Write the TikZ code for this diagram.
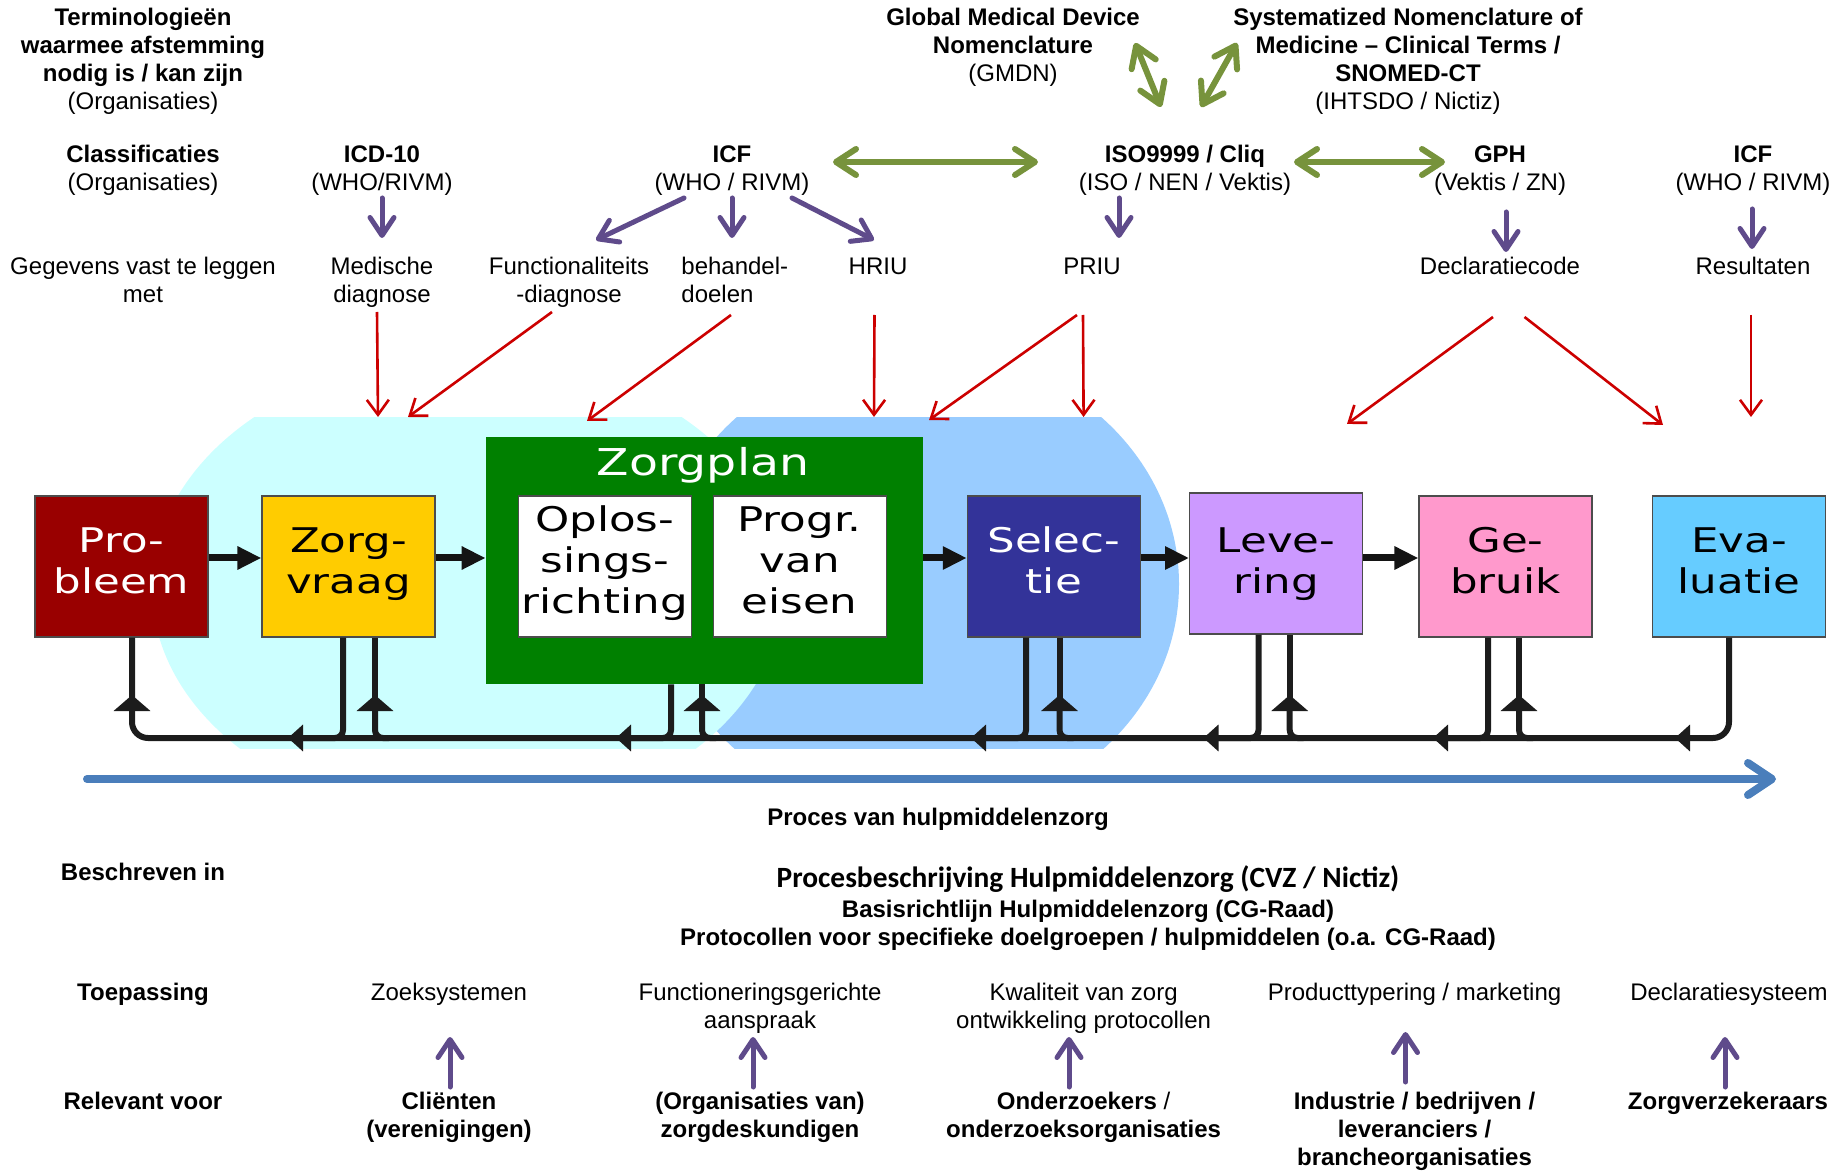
\documentclass[tikz,border=0pt]{standalone}
\usepackage{fontspec}
\setmainfont{Liberation Sans}
\newfontfamily\boxfont[FakeStretch=1.28]{DejaVu Sans}
\newfontfamily\calfont{Carlito}
\usetikzlibrary{arrows.meta,calc}
\definecolor{cpb}{HTML}{990000}
\definecolor{czv}{HTML}{FFCC00}
\definecolor{cgreen}{HTML}{008000}
\definecolor{csel}{HTML}{333399}
\definecolor{clev}{HTML}{CC99FF}
\definecolor{cgeb}{HTML}{FF99CC}
\definecolor{ceva}{HTML}{66CCFF}
\definecolor{bgcyan}{HTML}{CCFFFF}
\definecolor{bgblue}{HTML}{99CCFF}
\definecolor{cpurp}{HTML}{5F4B8B}
\definecolor{cgrn}{HTML}{77933C}
\definecolor{cred}{HTML}{CC0000}
\definecolor{cproc}{HTML}{4A7EBB}
\definecolor{cloop}{HTML}{1C1C1C}
\tikzset{
  txt/.style={font=\fontsize{12}{14}\selectfont, align=center, anchor=base, inner sep=0pt},
  pbox/.style={draw=black!70, line width=0.6pt, minimum width=86.5pt, minimum height=70.5pt, inner sep=0pt},
  boxtxt/.style={align=center, anchor=base, inner sep=0pt, font=\boxfont\fontsize{17}{20.5}\selectfont},
  zpbox/.style={fill=cgreen, minimum width=218.25pt, minimum height=123.5pt, inner sep=0pt},
  purp/.style={draw=cpurp, line width=2.5pt, line cap=round, -{Straight Barb[length=9pt,width=12pt,round]}},
  grn/.style={draw=cgrn, line width=3pt, {Straight Barb[length=10pt,width=13pt,round]}-{Straight Barb[length=10pt,width=13pt,round]}},
  redar/.style={draw=cred, line width=1.3pt, -{Straight Barb[length=7.5pt,width=11pt]}},
  loopl/.style={draw=cloop, line width=3pt},
  uptip/.style={loopl, -{Triangle[length=8pt,width=18pt]}},
  lefttip/.style={loopl, -{Triangle[length=7.5pt,width=13pt]}},
  barrow/.style={draw=black!92, line width=3.5pt, -{Triangle[length=12pt,width=11pt]}},
  proc/.style={draw=cproc, line width=4pt, line cap=round, -{Straight Barb[length=12pt,width=16pt,round]}}
}
\begin{document}
\begin{tikzpicture}[x=0.5pt,y=-0.5pt]
\useasboundingbox (0,0) rectangle (1843,1171);

% background shapes
\begin{scope}
\clip (0,418) rectangle (1843,748);
\fill[bgblue] (919,584) ellipse [x radius=260, y radius=234];
\fill[bgcyan] (468,588) ellipse [x radius=316, y radius=232];
\end{scope}

% process boxes
\node[pbox, fill=cpb] (pb) at (121.5,566.5) {};
\node[boxtxt, text=white] (pbt) at ($(pb)+(0,27)$) {Pro-\\bleem};
\node[pbox, fill=czv] (zv) at (348.5,566.5) {};
\node[boxtxt] (zvt) at ($(zv)+(0,27)$) {Zorg-\\vraag};
\node[zpbox] (zp) at (704.25,560.5) {};
\node[anchor=base, inner sep=0pt, text=white, font=\boxfont\fontsize{18.5}{20}\selectfont] (zpt) at (703,476) {Zorgplan};
\node[pbox, fill=white] (op) at (604.85,566.5) {};
\node[boxtxt] (opt) at ($(op)+(0,47)$) {Oplos-\\sings-\\richting};
\node[pbox, fill=white] (pv) at (799.6,566.5) {};
\node[boxtxt] (pvt) at ($(pv)+(0,47)$) {Progr.\\van\\eisen};
\node[pbox, fill=csel] (sel) at (1053.85,566.5) {};
\node[boxtxt, text=white] (selt) at ($(sel)+(0,27)$) {Selec-\\tie};
\node[pbox, fill=clev] (lev) at (1276.15,563.5) {};
\node[boxtxt] (levt) at ($(lev)+(0,30)$) {Leve-\\ring};
\node[pbox, fill=cgeb] (geb) at (1505.5,566.5) {};
\node[boxtxt] (gebt) at ($(geb)+(0,27)$) {Ge-\\bruik};
\node[pbox, fill=ceva] (eva) at (1739,566.5) {};
\node[boxtxt] (evat) at ($(eva)+(0,27)$) {Eva-\\luatie};

% forward arrows
\draw[barrow] ($(pb.east)+(0,-8.5)$) -- ($(zv.west)+(0,-8.5)$);
\draw[barrow] ($(zv.east)+(0,-8.5)$) -- ($(zp.west)+(0,-2.5)$);
\draw[barrow] ($(zp.east)+(0,-2.5)$) -- ($(sel.west)+(0,-8.5)$);
\draw[barrow] ($(sel.east)+(0,-8.5)$) -- ($(lev.west)+(0,-5.5)$);
\draw[barrow] ($(lev.east)+(0,-5.5)$) -- ($(geb.west)+(0,-8.5)$);

% feedback loop
\coordinate (bus) at (0,738);
\coordinate (pbL) at ($(pb.south)+(10.5,0)$);
\coordinate (zvL) at ($(zv.south)+(-5.5,0)$);
\coordinate (zvR) at ($(zv.south)+(26.5,0)$);
\coordinate (zpL) at ($(zp.south)+(-33.25,0)$);
\coordinate (zpR) at ($(zp.south)+(-2.25,0)$);
\coordinate (selL) at ($(sel.south)+(-27.85,0)$);
\coordinate (selR) at ($(sel.south)+(5.65,0)$);
\coordinate (levL) at ($(lev.south)+(-17.65,0)$);
\coordinate (levR) at ($(lev.south)+(13.55,0)$);
\coordinate (gebL) at ($(geb.south)+(-17.5,0)$);
\coordinate (gebR) at ($(geb.south)+(13.5,0)$);
\coordinate (evaL) at ($(eva.south)+(-10,0)$);

\draw[loopl, rounded corners=8pt] (evaL) |- (pbL |- bus) -- (pbL);
\draw[lefttip] ($(evaL |- bus)+(-30,0)$) -- ($(evaL |- bus)+(-54,0)$);
\draw[uptip] ($(pbL |- bus)+(0,-25)$) -- ($(pbL |- bus)+(0,-43)$);
\foreach \b in {zv,zp,sel,lev,geb}{
  \draw[lefttip, rounded corners=4pt] (\b L) |- ($(\b L |- bus)+(-55,0)$);
  \draw[uptip, rounded corners=4pt] ($(\b R |- bus)+(14,0)$) -| ($(\b R |- bus)+(0,-43)$);
  \draw[loopl] ($(\b R |- bus)+(0,-40)$) -- (\b R);
}

% process arrow
\coordinate (pstart) at (87,779);
\coordinate (pend) at (1776,779);
\draw[proc] (pstart) -- (pend);

% top text (anchor base = baseline of the last line)
\node[txt] (term) at (143,110) {\textbf{Terminologieën}\\\textbf{waarmee afstemming}\\\textbf{nodig is / kan zijn}\\(Organisaties)};
\node[txt] (klas) at (143,191) {\textbf{Classificaties}\\(Organisaties)};
\node[txt] (geg) at (143,303) {Gegevens vast te leggen\\met};
\node[txt] (icd) at (382,191) {\textbf{ICD-10}\\(WHO/RIVM)};
\node[txt] (icf) at (732,191) {\textbf{ICF}\\(WHO / RIVM)};
\node[txt] (med) at (382,303) {Medische\\diagnose};
\node[txt] (fun) at (569,303) {Functionaliteits\\-diagnose};
\node[txt, align=left, anchor=base west] (beh) at (681,303) {behandel-\\doelen};
\node[txt] (hriu) at (878,275) {HRIU};
\node[txt] (gmdn) at (1013,82) {\textbf{Global Medical Device}\\\textbf{Nomenclature}\\(GMDN)};
\node[txt] (snomed) at (1408,110) {\textbf{Systematized Nomenclature of}\\\textbf{Medicine – Clinical Terms /}\\\textbf{SNOMED-CT}\\(IHTSDO / Nictiz)};
\node[txt] (iso) at (1185,191) {\textbf{ISO9999 / Cliq}\\(ISO / NEN / Vektis)};
\node[txt] (gph) at (1500,191) {\textbf{GPH}\\(Vektis / ZN)};
\node[txt] (icf2) at (1753,191) {\textbf{ICF}\\(WHO / RIVM)};
\node[txt] (priu) at (1092,275) {PRIU};
\node[txt] (decl) at (1500,275) {Declaratiecode};
\node[txt] (res) at (1753,275) {Resultaten};

% purple arrows (top)
\draw[purp] ($(icd.base)+(0,7)$) -- ($(med.base)+(0,-65)$);
\draw[purp] ($(icf.base)+(-48,7)$) -- ($(fun.base)+(27,-63)$);
\draw[purp] ($(icf.base)+(0,7)$) -- ($(beh.base west)+(51,-65)$);
\draw[purp] ($(icf.base)+(60,7)$) -- ($(hriu.base)+(-4,-35)$);
\draw[purp] ($(iso.base)+(-66,7)$) -- ($(priu.base)+(27,-37)$);
\draw[purp] ($(gph.base)+(6,21)$) -- ($(decl.base)+(6,-23)$);
\draw[purp] ($(icf2.base)+(-1,18)$) -- ($(res.base)+(-1,-26)$);

% green arrows
\draw[grn] ($(gmdn.base)+(122,-39)$) -- ($(iso.base)+(-24,-84)$);
\draw[grn] ($(snomed.base)+(-171,-67)$) -- ($(iso.base)+(16,-84)$);
\draw[grn] ($(icf.base)+(101,-29)$) -- ($(iso.base)+(-147,-29)$);
\draw[grn] ($(iso.base)+(109,-29)$) -- ($(gph.base)+(-55,-29)$);

% red arrows
\coordinate (r1) at (378,417);
\coordinate (r2) at (408,417);
\coordinate (r3) at (587,421);
\coordinate (r4) at (874,417);
\coordinate (r5) at (929,420);
\coordinate (r6) at (1083.6,417);
\coordinate (r7) at (1347,424);
\coordinate (r8) at (1663,425);
\coordinate (r9) at (1751,417);
\draw[redar] ($(med.base)+(-5,9)$) -- (r1);
\draw[redar] ($(fun.base)+(-17,9)$) -- (r2);
\draw[redar] ($(beh.base west)+(50,12)$) -- (r3);
\draw[redar] ($(hriu.base)+(-3.5,40)$) -- (r4);
\draw[redar] ($(priu.base)+(-15,40)$) -- (r5);
\draw[redar] ($(priu.base)+(-9,40)$) -- (r6);
\draw[redar] ($(decl.base)+(-7,42)$) -- (r7);
\draw[redar] ($(decl.base)+(24.5,42)$) -- (r8);
\draw[redar] ($(res.base)+(-2,40)$) -- (r9);

% lower text
\node[txt] (proces) at (938,825) {\textbf{Proces van hulpmiddelenzorg}};
\node[txt] (beschr) at (143,880) {\textbf{Beschreven in}};
\node[txt, font=\calfont\bfseries\fontsize{14.7}{16}\selectfont] (pbes) at (1088,887) {Procesbeschrijving Hulpmiddelenzorg (CVZ / Nictiz)};
\node[txt] (basis) at (1088,945) {\textbf{Basisrichtlijn Hulpmiddelenzorg (CG-Raad)}\\\textbf{Protocollen voor specifieke doelgroepen / hulpmiddelen (o.a. CG-Raad)}};
\node[txt] (toep) at (143,1000) {\textbf{Toepassing}};
\node[txt] (zoek) at (449,1000) {Zoeksystemen};
\node[txt] (funct) at (760,1028) {Functioneringsgerichte\\aanspraak};
\node[txt] (kwal) at (1083.6,1028) {Kwaliteit van zorg\\ontwikkeling protocollen};
\node[txt] (prod) at (1414.5,1000) {Producttypering / marketing};
\node[txt] (declsys) at (1729,1000) {Declaratiesysteem};
\node[txt] (relv) at (143,1109) {\textbf{Relevant voor}};
\node[txt] (cli) at (449,1137) {\textbf{Cliënten}\\\textbf{(verenigingen)}};
\node[txt] (org) at (760,1137) {\textbf{(Organisaties van)}\\\textbf{zorgdeskundigen}};
\node[txt] (ond) at (1083.6,1137) {\textbf{Onderzoekers} /\\\textbf{onderzoeksorganisaties}};
\node[txt] (ind) at (1414.5,1165) {\textbf{Industrie / bedrijven /}\\\textbf{leveranciers /}\\\textbf{brancheorganisaties}};
\node[txt] (zvz) at (1728,1109) {\textbf{Zorgverzekeraars}};

% purple arrows (bottom)
\draw[purp] ($(cli.base)+(1,-50)$) -- ($(zoek.base)+(1,37)$);
\draw[purp] ($(org.base)+(-7,-50)$) -- ($(funct.base)+(-7,9)$);
\draw[purp] ($(ond.base)+(-14.6,-50)$) -- ($(kwal.base)+(-14.6,9)$);
\draw[purp] ($(ind.base)+(-9,-83)$) -- ($(prod.base)+(-9,32)$);
\draw[purp] ($(zvz.base)+(-3,-22)$) -- ($(declsys.base)+(-4,37)$);
\end{tikzpicture}
\end{document}
